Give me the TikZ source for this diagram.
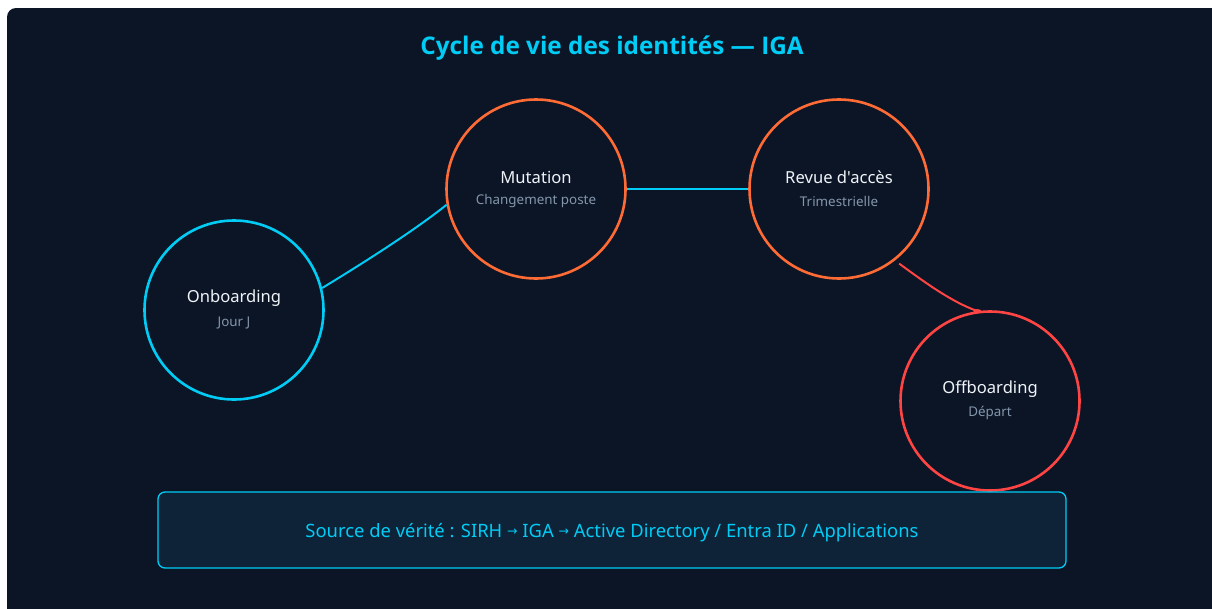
\documentclass[tikz,border=0pt]{standalone}
\usepackage{fontspec}
\setmainfont{Noto Sans}[Ligatures=TeXOff]
\newfontfamily\titlefont{Open Sans}
\newfontfamily\symfont{DejaVu Sans}
\usetikzlibrary{calc}
\definecolor{bgdark}{HTML}{0B1526}
\definecolor{cyanc}{HTML}{00CCF5}
\definecolor{orangec}{HTML}{FF6B35}
\definecolor{redc}{HTML}{FF4444}
\definecolor{subgrey}{HTML}{8496AC}
\definecolor{boxfill}{HTML}{0E2238}
\definecolor{txtwhite}{HTML}{F0F4F8}
\tikzset{
  stage/.style={circle, line width=2.6pt, minimum size=179pt, inner sep=0pt, fill=bgdark},
  title/.style={font=\titlefont\fontsize{24.3}{28}\selectfont\bfseries, text=cyanc},
  mainlbl/.style={font=\fontsize{16.6}{19}\selectfont, text=txtwhite},
  sublbl/.style={font=\fontsize{13.4}{15}\selectfont, text=subgrey},
  link/.style={line width=2pt},
}
\newcommand{\arr}{{\symfont\fontsize{12.5}{14}\selectfont\raisebox{2.2pt}{→}}}
\begin{document}
\begin{tikzpicture}[x=1pt,y=-1pt]
\useasboundingbox (0,0) rectangle (1212,608);
\clip (0,0) rectangle (1212,608);
\fill[white] (0,0) rectangle (1212,608);
\fill[bgdark, rounded corners=9pt] (7,8) rectangle (1222,620);

\node[title] (t) at (612,48) {Cycle de vie des identités — IGA};

\coordinate (onc) at (234,310);
\coordinate (mutc) at (536,189);
\coordinate (revc) at (839,189);
\coordinate (offc) at (990,401);

\node[stage, draw=cyanc] (on) at (onc) {};
\node[stage, draw=orangec] (mut) at (mutc) {};
\node[stage, draw=orangec] (rev) at (revc) {};
\node[stage, draw=redc] (off) at (offc) {};

\draw[link, cyanc] (on.14) .. controls (365,262) and (415,230) .. (mut.190);
\draw[link, cyanc] (mut.east) -- (rev.west);
\draw[link, redc] ($(rev.-51)+(3,4)$) .. controls (927,284) and (952,302) .. (off.98);
\fill[redc] (off.98) ellipse (4pt and 2pt);

\node[mainlbl] (onl) at (234,298) {Onboarding};
\node[sublbl] (ons) at (234,323) {Jour J};
\node[mainlbl] (mutl) at (536,177) {Mutation};
\node[sublbl] (muts) at (536,201) {Changement poste};
\node[mainlbl] (revl) at (839,177) {Revue d'accès};
\node[sublbl] (revs) at (839,201) {Trimestrielle};
\node[mainlbl] (offl) at (990,389) {Offboarding};
\node[sublbl] (offs) at (990,413) {Départ};

\draw[cyanc, fill=boxfill, line width=1.3pt, rounded corners=7pt] (158,492) rectangle (1066,568);
\node[font=\fontsize{18.4}{22}\selectfont, text=cyanc] (src) at (612,533)
  {Source de vérité : SIRH \arr{} IGA \arr{} Active Directory / Entra ID / Applications};
\end{tikzpicture}
\end{document}
